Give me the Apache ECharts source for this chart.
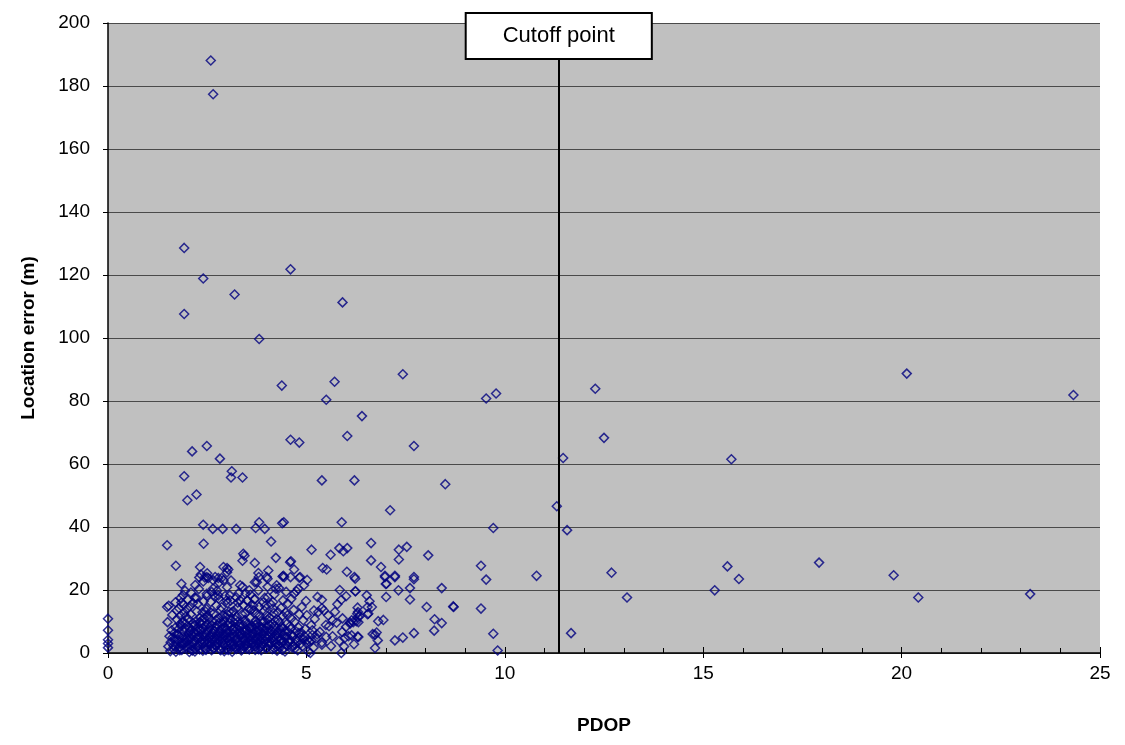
<!DOCTYPE html>
<html>
<head>
<meta charset="utf-8">
<title>Location error vs PDOP</title>
<script src="https://cdn.jsdelivr.net/npm/echarts@6/dist/echarts.min.js"></script>
<style>
  html, body { margin: 0; padding: 0; background: #fff; }
  #chart { width: 1125px; height: 745px; }
</style>
</head>
<body>
<div id="chart"></div>
<script>
// [PDOP, location error (m)]
const zeroPdop = [[0, 10.9], [0, 7.2], [0, 4.2], [0, 3.0], [0, 1.7]];

const denseCluster = [
  [1.52, 2.1], [1.55, 5.3], [1.5, 9.8], [1.58, 3.4], [1.6, 7.2], [1.57, 0.6], [1.62, 12.1], [1.53, 15.0],
  [1.66, 1.2], [1.68, 4.6], [1.7, 8.1], [1.72, 2.7], [1.74, 10.6], [1.67, 6.3], [1.73, 13.5], [1.71, 0.4], [1.69, 3.8],
  [1.77, 5.7], [1.8, 1.9], [1.82, 9.2], [1.79, 14.2], [1.84, 3.1], [1.78, 7.6], [1.83, 11.8], [1.81, 0.9], [1.85, 16.0], [1.76, 4.3],
  [1.87, 2.4], [1.9, 6.8], [1.92, 12.7], [1.88, 9.9], [1.93, 4.0], [1.86, 1.0], [1.91, 15.3], [1.94, 7.9], [1.89, 18.4], [1.95, 3.2],
  [1.97, 5.1], [2.0, 1.6], [2.02, 10.8], [1.99, 13.9], [2.04, 8.3], [1.98, 3.6], [2.03, 6.2], [2.01, 16.9], [2.05, 0.3], [1.96, 11.6],
  [2.07, 4.4], [2.1, 7.3], [2.12, 2.2], [2.08, 12.3], [2.14, 9.5], [2.06, 14.8], [2.11, 5.9], [2.13, 0.8], [2.09, 19.2], [2.15, 3.0],
  [2.17, 6.5], [2.2, 1.4], [2.22, 10.1], [2.18, 3.9], [2.24, 13.2], [2.16, 8.7], [2.21, 4.8], [2.23, 17.5], [2.19, 0.5], [2.25, 7.0], [2.2, 21.6],
  [2.27, 2.6], [2.3, 5.5], [2.32, 11.2], [2.28, 8.0], [2.34, 3.7], [2.26, 15.6], [2.31, 1.1], [2.33, 6.9], [2.29, 20.3], [2.35, 9.4], [2.3, 24.0],
  [2.37, 4.2], [2.4, 7.8], [2.42, 1.8], [2.38, 12.9], [2.44, 5.0], [2.36, 10.3], [2.41, 16.4], [2.43, 3.3], [2.39, 0.7], [2.45, 8.6], [2.4, 22.7],
  [2.47, 6.0], [2.5, 2.9], [2.52, 9.1], [2.48, 14.0], [2.54, 4.7], [2.46, 1.3], [2.51, 11.9], [2.53, 7.4], [2.49, 18.8], [2.55, 3.5], [2.5, 25.3],
  [2.57, 5.4], [2.6, 8.8], [2.62, 2.0], [2.58, 13.0], [2.64, 6.6], [2.56, 10.9], [2.61, 0.9], [2.63, 4.1], [2.59, 16.2], [2.65, 20.5], [2.6, 3.0],
  [2.67, 7.1], [2.7, 3.8], [2.72, 10.4], [2.68, 1.5], [2.74, 5.6], [2.66, 12.5], [2.71, 8.3], [2.73, 15.1], [2.69, 2.6], [2.75, 19.8],
  [2.77, 4.5], [2.8, 9.6], [2.82, 1.2], [2.78, 6.7], [2.84, 13.6], [2.76, 2.8], [2.81, 11.0], [2.83, 5.2], [2.79, 17.3], [2.85, 7.7], [2.8, 22.4],
  [2.87, 3.4], [2.9, 6.1], [2.92, 10.2], [2.88, 1.7], [2.94, 8.2], [2.86, 14.5], [2.91, 4.6], [2.93, 0.6], [2.89, 12.0], [2.95, 18.1],
  [2.97, 5.8], [3.0, 2.3], [3.02, 9.0], [2.98, 7.3], [3.04, 3.9], [2.96, 11.4], [3.01, 15.9], [3.03, 1.0], [2.99, 6.4], [3.05, 13.1], [3.0, 20.9],
  [3.07, 4.9], [3.1, 8.5], [3.12, 1.9], [3.08, 10.7], [3.14, 6.0], [3.06, 3.1], [3.11, 12.8], [3.13, 0.4], [3.09, 16.6], [3.15, 7.6], [3.1, 23.0],
  [3.17, 2.7], [3.2, 6.8], [3.22, 4.3], [3.18, 9.7], [3.24, 1.3], [3.16, 13.3], [3.21, 8.0], [3.23, 17.7], [3.19, 5.1], [3.25, 11.5],
  [3.27, 3.6], [3.3, 7.2], [3.32, 1.6], [3.28, 10.0], [3.34, 5.5], [3.26, 14.4], [3.31, 9.1], [3.33, 2.5], [3.29, 19.0], [3.35, 6.3],
  [3.37, 4.8], [3.4, 8.9], [3.42, 2.1], [3.38, 12.2], [3.44, 6.6], [3.36, 0.8], [3.41, 15.2], [3.43, 3.9], [3.39, 21.0], [3.45, 10.5],
  [3.47, 5.3], [3.5, 1.4], [3.52, 9.3], [3.48, 7.5], [3.54, 3.2], [3.46, 12.6], [3.51, 16.7], [3.53, 6.1], [3.49, 2.4], [3.55, 14.0],
  [3.57, 4.0], [3.6, 7.9], [3.62, 2.8], [3.58, 11.1], [3.64, 5.7], [3.56, 1.1], [3.61, 13.8], [3.63, 8.6], [3.59, 18.5], [3.65, 3.4],
  [3.67, 6.4], [3.7, 2.0], [3.72, 10.3], [3.68, 4.4], [3.74, 8.1], [3.66, 15.0], [3.71, 1.0], [3.73, 12.4], [3.69, 17.0], [3.75, 5.0], [3.7, 22.5],
  [3.77, 3.0], [3.8, 7.0], [3.82, 11.7], [3.78, 5.6], [3.84, 1.8], [3.76, 9.4], [3.81, 14.7], [3.83, 4.2], [3.79, 19.9], [3.85, 8.4], [3.8, 24.1],
  [3.87, 2.2], [3.9, 6.2], [3.92, 9.8], [3.88, 4.7], [3.94, 13.4], [3.86, 0.9], [3.91, 16.1], [3.93, 3.5], [3.89, 7.8],
  [3.97, 5.2], [4.0, 1.6], [4.02, 10.6], [3.98, 8.0], [4.04, 3.3], [3.96, 14.9], [4.01, 6.9], [4.03, 17.8], [3.99, 12.0], [4.02, 21.0], [4.02, 23.6],
  [4.07, 2.9], [4.1, 7.4], [4.12, 4.5], [4.08, 11.3], [4.14, 1.2], [4.06, 9.0], [4.11, 15.4], [4.13, 6.0], [4.16, 14.1],
  [4.17, 3.7], [4.2, 8.7], [4.22, 5.8], [4.18, 12.7], [4.24, 1.9], [4.16, 16.2], [4.21, 10.2], [4.23, 20.4], [4.25, 4.6],
  [4.27, 6.3], [4.3, 2.6], [4.32, 9.6], [4.28, 13.0], [4.34, 4.1], [4.26, 0.7], [4.31, 20.6], [4.25, 21.5], [4.33, 7.5],
  [4.37, 3.2], [4.4, 11.8], [4.42, 5.9], [4.38, 8.3], [4.44, 1.5], [4.41, 16.7], [4.44, 24.1], [4.4, 24.3], [4.36, 14.3],
  [4.47, 4.9], [4.5, 9.2], [4.52, 2.3], [4.48, 12.9], [4.54, 6.7], [4.53, 15.7], [4.49, 19.4], [4.46, 0.5],
  [4.57, 3.6], [4.6, 7.7], [4.62, 11.0], [4.58, 4.3], [4.64, 1.8], [4.62, 17.2], [4.6, 24.1],
  [4.67, 5.4], [4.7, 9.9], [4.72, 2.7], [4.68, 13.7], [4.71, 1.4], [4.69, 18.8], [4.75, 19.6], [4.74, 6.8],
  [4.77, 3.9], [4.8, 8.1], [4.82, 12.3], [4.79, 20.4], [4.84, 5.0], [4.78, 0.9],
  [4.87, 6.5], [4.9, 2.1], [4.92, 10.4], [4.88, 14.6], [4.94, 21.5], [4.93, 4.4],
  [4.97, 7.6], [5.0, 3.1], [5.02, 23.2], [5.03, 4.2], [5.01, 12.0], [4.99, 16.5], [5.05, 0.4]
];

// second pass over the solid blue band near the bottom of the cluster
const denseCore = [
  [1.63, 4.9], [1.65, 2.3], [1.75, 6.0], [1.78, 1.4], [1.84, 8.6], [1.88, 5.2], [1.9, 2.9], [1.95, 9.4], [1.99, 4.5],
  [2.03, 2.7], [2.06, 7.0], [2.09, 1.1], [2.13, 5.6], [2.16, 3.4], [2.19, 8.9], [2.22, 6.1], [2.25, 2.0], [2.28, 4.8],
  [2.31, 9.8], [2.34, 7.5], [2.36, 2.9], [2.39, 5.7], [2.42, 11.0], [2.45, 3.8], [2.47, 1.0], [2.5, 6.6], [2.52, 4.3],
  [2.55, 8.1], [2.58, 2.5], [2.6, 5.9], [2.63, 9.9], [2.65, 1.4], [2.68, 4.9], [2.7, 6.9], [2.73, 2.2], [2.76, 8.8],
  [2.78, 3.9], [2.81, 6.2], [2.84, 0.9], [2.86, 4.4], [2.89, 9.2], [2.91, 2.6], [2.94, 5.5], [2.96, 7.9], [2.99, 1.2],
  [3.01, 4.7], [3.04, 6.5], [3.06, 9.5], [3.09, 2.9], [3.11, 5.0], [3.14, 3.6], [3.16, 7.3], [3.19, 1.8], [3.21, 10.6],
  [3.24, 4.6], [3.26, 6.2], [3.29, 2.2], [3.31, 8.4], [3.34, 3.5], [3.36, 5.9], [3.39, 1.3], [3.41, 7.0], [3.44, 4.4],
  [3.46, 9.6], [3.49, 2.9], [3.51, 6.3], [3.54, 4.8], [3.56, 8.2], [3.59, 1.6], [3.61, 5.4], [3.64, 3.2], [3.66, 7.6],
  [3.69, 2.4], [3.71, 9.0], [3.74, 4.1], [3.76, 6.8], [3.79, 1.2], [3.81, 5.0], [3.84, 3.7], [3.86, 10.2], [3.89, 5.9],
  [3.91, 2.6], [3.94, 7.1], [3.96, 4.0], [3.99, 1.5], [4.01, 8.6], [4.04, 5.5], [4.06, 2.3], [4.09, 6.4], [4.11, 3.3],
  [4.14, 9.3], [4.16, 4.9], [4.19, 1.4], [4.21, 7.1], [4.24, 3.0], [4.26, 5.6], [4.29, 10.4], [4.31, 2.0], [4.34, 6.6],
  [4.36, 4.5], [4.39, 1.0], [4.41, 8.0], [4.43, 3.6], [4.46, 6.9], [4.49, 2.6], [4.51, 5.1], [4.55, 3.5], [4.58, 8.5],
  [4.63, 5.7], [4.66, 2.5], [4.73, 4.3], [4.81, 6.3], [4.86, 3.0], [4.95, 5.4], [1.7, 16.1], [1.94, 19.8], [2.14, 15.9],
  [2.46, 13.2], [2.7, 17.9], [3.02, 12.2], [3.27, 16.0], [3.47, 18.9], [3.68, 13.6], [3.95, 17.5], [4.19, 18.6], [4.52, 12.0]
];

const midCluster = [
  [5.1, 0.0], [5.07, 3.6], [5.13, 4.0], [5.24, 4.6], [5.15, 7.2], [5.15, 5.7], [5.27, 5.9], [5.34, 6.7], [5.12, 8.8],
  [5.19, 13.5], [5.39, 14.2], [5.3, 13.0], [5.44, 13.5], [5.39, 16.9], [5.39, 3.3], [5.39, 2.6], [5.5, 5.1], [5.49, 8.9],
  [5.57, 8.5], [5.66, 10.4], [5.66, 5.3], [5.76, 9.6], [5.83, 3.8], [5.88, 0.0], [5.88, 16.9], [5.84, 20.0], [5.91, 11.0],
  [5.9, 6.7], [6.0, 8.3], [6.1, 9.7], [6.0, 18.0], [6.06, 5.3], [6.2, 2.8], [6.29, 5.2], [6.23, 19.6], [6.3, 13.0],
  [6.3, 11.4], [6.26, 10.1], [6.29, 14.4], [6.54, 14.6], [6.54, 12.3], [6.52, 18.3], [5.21, 10.8], [5.28, 17.8], [5.18, 1.7],
  [5.62, 2.2], [5.72, 13.1], [5.95, 2.1], [5.55, 11.9], [5.78, 15.5], [5.96, 4.7], [6.14, 10.4], [6.18, 9.8], [6.1, 9.3],
  [6.31, 9.8], [6.14, 5.6], [6.31, 5.1], [6.34, 11.7], [6.28, 12.5], [6.56, 12.5], [6.65, 14.6], [6.59, 16.4], [6.24, 19.6],
  [6.67, 6.0], [6.73, 5.8], [6.77, 6.5], [6.8, 4.0], [6.73, 1.6], [6.81, 10.1], [6.94, 10.5], [7.01, 17.8], [7.0, 21.9],
  [7.23, 4.0], [7.43, 4.9], [7.71, 6.3], [7.32, 19.9], [7.61, 20.6], [7.61, 17.0], [8.03, 14.6], [8.41, 20.6], [8.71, 14.6],
  [8.23, 10.7], [8.41, 9.5], [8.22, 7.1], [6.98, 24.1], [7.23, 24.1], [7.02, 22.0], [7.71, 23.4], [6.23, 23.6]
];

const upperCluster = [
  [1.49, 34.2], [2.41, 34.7], [4.11, 35.4], [3.41, 31.5], [3.44, 30.9], [3.39, 29.3], [4.23, 30.2], [3.7, 28.6], [4.61, 29.1],
  [1.71, 27.7], [2.32, 27.3], [2.91, 27.3], [3.0, 27.0], [3.03, 26.5], [3.0, 25.6], [3.79, 25.4], [4.04, 26.2], [4.0, 24.1],
  [4.42, 24.5], [4.84, 24.1], [2.34, 24.9], [2.49, 24.1], [2.7, 24.1], [2.86, 23.8], [1.85, 22.0], [2.44, 24.0], [2.53, 23.8],
  [2.65, 23.1], [2.78, 23.8], [2.91, 23.1], [3.33, 21.5], [3.56, 19.9], [3.75, 22.5], [2.61, 19.4], [2.49, 18.1], [2.78, 18.3],
  [3.07, 18.3], [2.99, 16.7], [3.33, 16.7], [3.51, 16.7], [3.7, 17.2], [1.83, 17.5], [2.19, 17.5], [1.49, 14.6],
  [2.0, 48.5], [2.23, 50.3], [2.4, 40.7], [2.64, 39.4], [2.89, 39.4], [3.23, 39.4], [3.72, 39.7], [3.81, 41.5], [3.95, 39.4],
  [4.43, 41.5], [5.13, 32.8], [5.61, 31.2], [5.83, 33.3], [5.93, 32.3], [6.03, 33.3], [6.63, 34.9], [6.63, 29.4], [7.33, 32.8],
  [7.53, 33.7], [7.33, 29.7], [8.07, 31.0], [6.88, 27.3], [5.41, 27.0], [5.51, 26.5], [6.02, 25.8], [6.98, 24.5], [7.23, 24.5],
  [6.21, 24.1], [7.71, 24.1], [4.59, 28.8], [4.69, 26.5], [4.82, 23.9], [5.89, 41.5], [4.39, 41.2], [7.11, 45.3],
  [5.39, 54.8], [6.21, 54.8], [8.5, 53.6], [8.7, 14.8], [9.4, 27.7], [9.53, 23.3], [9.4, 14.1], [9.71, 6.1], [9.82, 0.8],
  [10.8, 24.5], [9.71, 39.7]
];

const highOutliers = [
  [2.59, 188.1], [2.65, 177.4], [1.92, 128.6], [2.4, 118.9], [3.19, 113.8], [4.6, 121.8], [5.91, 111.3], [1.92, 107.6],
  [3.81, 99.7], [4.38, 84.9], [5.71, 86.1], [5.5, 80.4], [7.43, 88.5], [9.53, 80.8], [9.78, 82.4], [6.4, 75.2],
  [6.03, 68.9], [7.71, 65.7], [2.12, 64.0], [2.49, 65.7], [2.82, 61.7], [4.6, 67.7], [4.82, 66.8], [1.92, 56.1],
  [3.12, 57.7], [3.1, 55.7], [3.39, 55.7], [11.31, 46.6]
];

const beyondCutoff = [
  [11.47, 61.9], [11.57, 39.0], [11.67, 6.3], [12.28, 83.9], [12.5, 68.3], [12.69, 25.5], [13.08, 17.6],
  [15.29, 19.9], [15.61, 27.5], [15.71, 61.5], [15.9, 23.5], [17.92, 28.7], [19.8, 24.7], [20.13, 88.7],
  [20.42, 17.6], [23.24, 18.7], [24.33, 81.9]
];

const cutoffPdop = 11.36;

const points = [].concat(zeroPdop, denseCluster, denseCore, midCluster, upperCluster, highOutliers, beyondCutoff);

const font = 'Liberation Sans, Arial, sans-serif';
const chart = echarts.init(document.getElementById('chart'));

chart.setOption({
  backgroundColor: '#ffffff',
  animation: false,
  grid: {
    left: 108, right: 25, top: 23, bottom: 92,
    show: true, backgroundColor: '#c0c0c0', borderWidth: 0
  },
  xAxis: [{
    type: 'value', min: 0, max: 25, interval: 5,
    name: 'PDOP', nameLocation: 'middle', nameGap: 63,
    nameTextStyle: { fontFamily: font, fontSize: 19, fontWeight: 'bold', color: '#000' },
    axisLine: { onZero: false, lineStyle: { color: '#000', width: 1.5 } },
    axisTick: { inside: true, length: 6, lineStyle: { color: '#000' } },
    minorTick: { show: true, splitNumber: 5, length: 5, lineStyle: { color: '#000' } },
    axisLabel: { fontFamily: font, fontSize: 19, color: '#000', margin: 11 },
    splitLine: { show: false }
  }, {
    // outside half of the major ticks, so they cross the axis line
    type: 'value', min: 0, max: 25, interval: 5, position: 'bottom', offset: 0,
    axisLine: { show: false },
    axisTick: { inside: false, length: 5, lineStyle: { color: '#000' } },
    axisLabel: { show: false },
    splitLine: { show: false }
  }],
  yAxis: {
    type: 'value', min: 0, max: 200, interval: 20,
    name: 'Location error (m)', nameLocation: 'middle', nameGap: 70,
    nameTextStyle: { fontFamily: font, fontSize: 19, fontWeight: 'bold', color: '#000' },
    axisLine: { show: true, onZero: false, lineStyle: { color: '#000', width: 1.5 } },
    axisTick: { show: true, inside: false, length: 5, lineStyle: { color: '#000' } },
    axisLabel: { fontFamily: font, fontSize: 19, color: '#000', margin: 18 },
    splitLine: { show: true, lineStyle: { color: '#4a4a4a', width: 1.2 } }
  },
  series: [{
    type: 'scatter',
    data: points,
    symbol: 'diamond',
    symbolSize: 9,
    itemStyle: { color: 'rgba(0,0,0,0)', borderColor: '#000080', borderWidth: 1.5 },
    markLine: {
      silent: true,
      symbol: ['none', 'none'],
      lineStyle: { color: '#000', width: 2, type: 'solid' },
      label: {
        show: true, position: 'end', formatter: 'Cutoff point',
        fontFamily: font, fontSize: 22, color: '#000',
        backgroundColor: '#fff', borderColor: '#000', borderWidth: 2,
        padding: [11, 36, 11, 36], offset: [0, 40]
      },
      data: [{ xAxis: cutoffPdop }]
    }
  }]
});
</script>
</body>
</html>
